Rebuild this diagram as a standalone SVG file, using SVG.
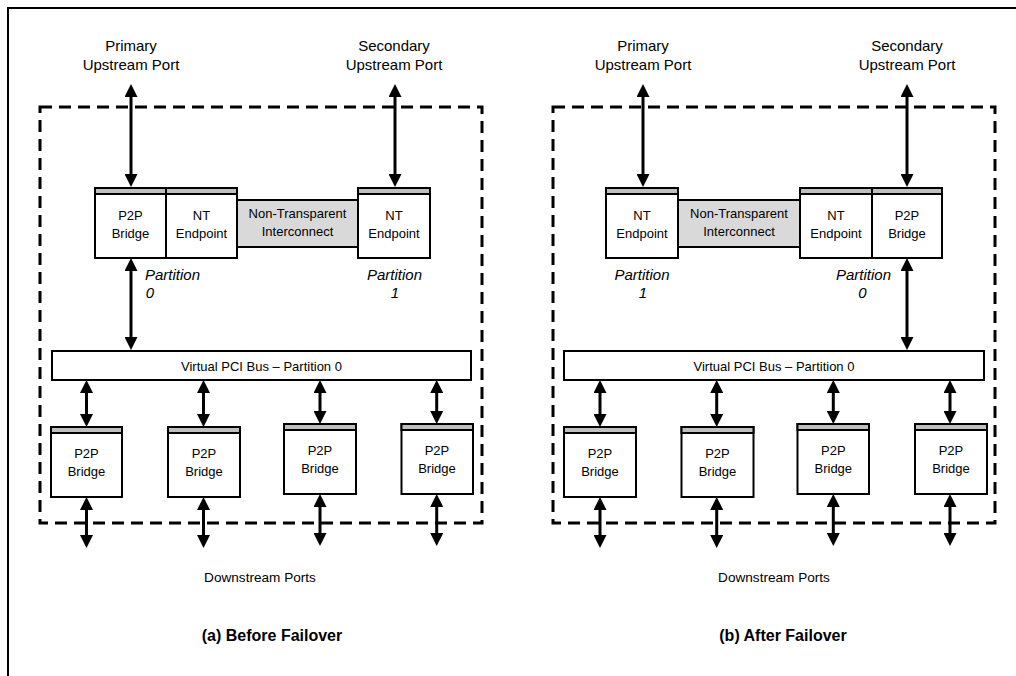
<svg xmlns="http://www.w3.org/2000/svg" width="1016" height="676" viewBox="0 0 1016 676">
<style>
text{font-family:"Liberation Sans",Arial,sans-serif;fill:#000}
.lbl{font-size:15px;text-anchor:middle}
.bt{font-size:13px;text-anchor:middle}
.part{font-size:15px;font-style:italic}
.ds{font-size:13.6px;text-anchor:middle}
.title{font-size:16px;font-weight:bold;text-anchor:middle}
.box{fill:#fff;stroke:#000;stroke-width:2}
.bar{fill:#bfbfbf;stroke:#000;stroke-width:2}
.ic{fill:#d9d9d9;stroke:#000;stroke-width:2}
.dash{fill:none;stroke:#000;stroke-width:3;stroke-dasharray:12 7}
.arr{stroke:#000;stroke-width:3;fill:none;marker-start:url(#ah);marker-end:url(#ah)}
.frame{fill:none;stroke:#000;stroke-width:2}
</style>
<defs>
<marker id="ah" viewBox="0 0 13 13" refX="3" refY="6.5" markerWidth="13" markerHeight="13" markerUnits="userSpaceOnUse" orient="auto-start-reverse">
<path d="M0,0 L13,6.5 L0,13 z" fill="#000"/>
</marker>
</defs>
<rect width="1016" height="676" fill="#fff"/>
<path class="frame" d="M8,676 V8 H1016"/>

<!-- Panel (a) -->
<g id="panel-a">
<rect id="switch-a" class="dash" x="40" y="107" width="442" height="416"/>
<g id="label-primary-a"><text class="lbl" x="131" y="51">Primary</text><text class="lbl" x="131" y="70">Upstream Port</text></g>
<g id="label-secondary-a"><text class="lbl" x="394" y="51">Secondary</text><text class="lbl" x="394" y="70">Upstream Port</text></g>
<g id="a-p2p-top"><rect class="box" x="95" y="188" width="71" height="70"/><rect class="bar" x="95" y="188" width="71" height="6"/><text class="bt" x="130.5" y="220">P2P</text><text class="bt" x="130.5" y="238">Bridge</text></g>
<g id="a-nt0"><rect class="box" x="166" y="188" width="71" height="70"/><rect class="bar" x="166" y="188" width="71" height="6"/><text class="bt" x="201.5" y="220">NT</text><text class="bt" x="201.5" y="238">Endpoint</text></g>
<g id="a-ntic"><rect class="ic" x="237" y="200" width="121" height="47"/><text class="bt" x="297.5" y="218">Non-Transparent</text><text class="bt" x="297.5" y="236">Interconnect</text></g>
<g id="a-nt1"><rect class="box" x="358" y="188" width="72" height="70"/><rect class="bar" x="358" y="188" width="72" height="6"/><text class="bt" x="394" y="220">NT</text><text class="bt" x="394" y="238">Endpoint</text></g>
<g id="a-part0"><text class="part" x="145" y="280">Partition</text><text class="part" x="150" y="298" text-anchor="middle">0</text></g>
<g id="a-part1"><text class="part" x="394.5" y="280" text-anchor="middle">Partition</text><text class="part" x="395" y="298" text-anchor="middle">1</text></g>
<g id="a-bus"><rect class="box" x="52" y="351" width="419" height="29"/><text class="bt" x="261.5" y="371">Virtual PCI Bus – Partition 0</text></g>
<g id="a-b1"><rect class="box" x="51" y="427" width="71" height="70"/><rect class="bar" x="51" y="427" width="71" height="6"/><text class="bt" x="86.5" y="458">P2P</text><text class="bt" x="86.5" y="476">Bridge</text></g>
<g id="a-b2"><rect class="box" x="168" y="427" width="72" height="70"/><rect class="bar" x="168" y="427" width="72" height="6"/><text class="bt" x="204" y="458">P2P</text><text class="bt" x="204" y="476">Bridge</text></g>
<g id="a-b3"><rect class="box" x="284" y="424" width="72" height="70"/><rect class="bar" x="284" y="424" width="72" height="6"/><text class="bt" x="320" y="455">P2P</text><text class="bt" x="320" y="473">Bridge</text></g>
<g id="a-b4"><rect class="box" x="401.5" y="424" width="71.5" height="70"/><rect class="bar" x="401.5" y="424" width="71.5" height="6"/><text class="bt" x="437" y="455">P2P</text><text class="bt" x="437" y="473">Bridge</text></g>
<text class="ds" x="260" y="582">Downstream Ports</text>
<text class="title" x="272" y="641">(a) Before Failover</text>
</g>

<!-- Panel (b) -->
<g id="panel-b">
<rect id="switch-b" class="dash" x="553" y="107" width="442" height="416"/>
<g id="label-primary-b"><text class="lbl" x="643" y="51">Primary</text><text class="lbl" x="643" y="70">Upstream Port</text></g>
<g id="label-secondary-b"><text class="lbl" x="907" y="51">Secondary</text><text class="lbl" x="907" y="70">Upstream Port</text></g>
<g id="b-nt1"><rect class="box" x="606" y="188" width="72" height="70"/><rect class="bar" x="606" y="188" width="72" height="6"/><text class="bt" x="642" y="220">NT</text><text class="bt" x="642" y="238">Endpoint</text></g>
<g id="b-ntic"><rect class="ic" x="678" y="200" width="122" height="47"/><text class="bt" x="739" y="218">Non-Transparent</text><text class="bt" x="739" y="236">Interconnect</text></g>
<g id="b-nt0"><rect class="box" x="800" y="188" width="72" height="70"/><rect class="bar" x="800" y="188" width="72" height="6"/><text class="bt" x="836" y="220">NT</text><text class="bt" x="836" y="238">Endpoint</text></g>
<g id="b-p2p-top"><rect class="box" x="872" y="188" width="70" height="70"/><rect class="bar" x="872" y="188" width="70" height="6"/><text class="bt" x="907" y="220">P2P</text><text class="bt" x="907" y="238">Bridge</text></g>
<g id="b-part1"><text class="part" x="642" y="280" text-anchor="middle">Partition</text><text class="part" x="643" y="298" text-anchor="middle">1</text></g>
<g id="b-part0"><text class="part" x="863.5" y="280" text-anchor="middle">Partition</text><text class="part" x="862.5" y="298" text-anchor="middle">0</text></g>
<g id="b-bus"><rect class="box" x="564" y="351" width="420" height="29"/><text class="bt" x="774" y="371">Virtual PCI Bus – Partition 0</text></g>
<g id="b-b1"><rect class="box" x="564" y="427" width="72" height="70"/><rect class="bar" x="564" y="427" width="72" height="6"/><text class="bt" x="600" y="458">P2P</text><text class="bt" x="600" y="476">Bridge</text></g>
<g id="b-b2"><rect class="box" x="681.5" y="427" width="72" height="70"/><rect class="bar" x="681.5" y="427" width="72" height="6"/><text class="bt" x="717.5" y="458">P2P</text><text class="bt" x="717.5" y="476">Bridge</text></g>
<g id="b-b3"><rect class="box" x="797.5" y="424" width="71.5" height="70"/><rect class="bar" x="797.5" y="424" width="71.5" height="6"/><text class="bt" x="833.3" y="455">P2P</text><text class="bt" x="833.3" y="473">Bridge</text></g>
<g id="b-b4"><rect class="box" x="915" y="424" width="72" height="70"/><rect class="bar" x="915" y="424" width="72" height="6"/><text class="bt" x="951" y="455">P2P</text><text class="bt" x="951" y="473">Bridge</text></g>
<text class="ds" x="774" y="582">Downstream Ports</text>
<text class="title" x="783" y="641">(b) After Failover</text>
</g>

<g id="connectors">
<line class="arr" x1="131" y1="94" x2="131" y2="177"/>
<line class="arr" x1="395" y1="94" x2="395" y2="177"/>
<line class="arr" x1="131" y1="268" x2="131" y2="340"/>
<line class="arr" x1="86.5" y1="390" x2="86.5" y2="417"/>
<line class="arr" x1="203.5" y1="390" x2="203.5" y2="417"/>
<line class="arr" x1="320" y1="390" x2="320" y2="414"/>
<line class="arr" x1="436.7" y1="390" x2="436.7" y2="414"/>
<line class="arr" x1="86.5" y1="507" x2="86.5" y2="538"/>
<line class="arr" x1="203.5" y1="507" x2="203.5" y2="538"/>
<line class="arr" x1="320" y1="504" x2="320" y2="536"/>
<line class="arr" x1="436.7" y1="504" x2="436.7" y2="536"/>

<line class="arr" x1="643" y1="94" x2="643" y2="177"/>
<line class="arr" x1="907" y1="94" x2="907" y2="177"/>
<line class="arr" x1="907" y1="268" x2="907" y2="340"/>
<line class="arr" x1="600" y1="390" x2="600" y2="417"/>
<line class="arr" x1="716.7" y1="390" x2="716.7" y2="417"/>
<line class="arr" x1="833.3" y1="390" x2="833.3" y2="414"/>
<line class="arr" x1="950" y1="390" x2="950" y2="414"/>
<line class="arr" x1="600" y1="507" x2="600" y2="538"/>
<line class="arr" x1="716.7" y1="507" x2="716.7" y2="538"/>
<line class="arr" x1="833.3" y1="504" x2="833.3" y2="536"/>
<line class="arr" x1="950" y1="504" x2="950" y2="536"/>
</g>
</svg>
